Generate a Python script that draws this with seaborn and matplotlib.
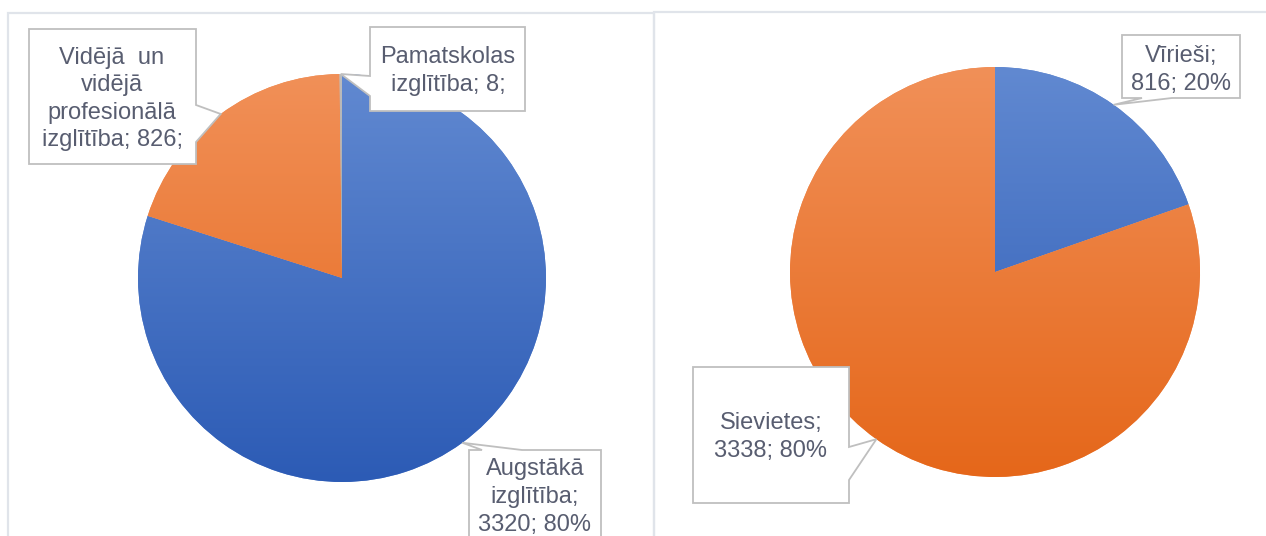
import numpy as np
import matplotlib
matplotlib.use("Agg")
import matplotlib.pyplot as plt
from matplotlib.colors import LinearSegmentedColormap
from matplotlib.patches import Polygon
import seaborn as sns

# Education level of respondents
edu_names = ["Augstākā\nizglītība;", "Vidējā  un\nvidējā\nprofesionālā\nizglītība;", "Pamatskolas\nizglītība;"]
edu_values = [3320, 826, 8]
edu_show_pct = [True, False, False]
edu_colors = ["blue", "orange", "gray"]

# Respondents by gender
gender_names = ["Vīrieši;", "Sievietes;"]
gender_values = [816, 3338]
gender_show_pct = [True, True]
gender_colors = ["blue", "orange"]

W, H = 1266, 536
TEXT = "#585d70"
BOX_EDGE = "#bfbfbf"
FRAME = "#e0e4ea"

sns.set_theme(style="white")
plt.rcParams["font.family"] = ["Liberation Sans", "DejaVu Sans"]

# light (top) -> dark (bottom) fills
shades = {
    "blue": ("#6189d1", "#2c5bb5"),
    "orange": ("#f19058", "#e5671a"),
    "gray": ("#bcbcbc", "#8c8c8c"),
}

fig = plt.figure(figsize=(W / 100, H / 100), dpi=100)
ax = fig.add_axes([0, 0, 1, 1])


def py(y):
    """Convert a top-down pixel row into the axes' y coordinate."""
    return H - y


def label_text(name, value, total, show_pct, sep):
    if show_pct:
        return f"{name}{sep}{value}; {round(value / total * 100)}%"
    return f"{name}{sep}{value};"


def gradient_pie(values, palette, center_px, radius):
    cx, cy = center_px[0], py(center_px[1])
    wedges, _ = ax.pie(
        values,
        colors=[shades[c][0] for c in palette],
        startangle=90,
        counterclock=False,
        center=(cx, cy),
        radius=radius,
        wedgeprops=dict(linewidth=0),
    )
    grad = np.linspace(0, 1, 256).reshape(-1, 1)
    for w, c in zip(wedges, palette):
        cmap = LinearSegmentedColormap.from_list("shade", shades[c])
        im = ax.imshow(
            grad, cmap=cmap, origin="upper", aspect="auto", zorder=2,
            interpolation="bilinear",
            extent=(cx - radius, cx + radius, cy - radius, cy + radius),
        )
        im.set_clip_path(w)
    # leader anchors sit on the rim at each slice's mid angle
    total = sum(values)
    anchors, start = [], 0.0
    for v in values:
        mid = (start + v / 2) / total * 2 * np.pi
        anchors.append((cx + radius * np.sin(mid), H - (cy + radius * np.cos(mid))))
        start += v
    return anchors


def callout(text, box, side, base, tip, text_xy):
    x0, y0, x1, y1 = box
    a, b = base
    pts = [(x0, y0)]
    if side == "top":
        pts += [(a, y0), tip, (b, y0)]
    pts.append((x1, y0))
    if side == "right":
        pts += [(x1, a), tip, (x1, b)]
    pts.append((x1, y1))
    if side == "bottom":
        pts += [(b, y1), tip, (a, y1)]
    pts.append((x0, y1))
    if side == "left":
        pts += [(x0, b), tip, (x0, a)]
    poly = Polygon([(x, py(y)) for x, y in pts], closed=True, facecolor="white",
                   edgecolor=BOX_EDGE, linewidth=1.3, zorder=5, joinstyle="miter")
    ax.add_patch(poly)
    ax.text(text_xy[0], py(text_xy[1]), text, ha="center", va="center",
            multialignment="center", fontsize=17, color=TEXT, zorder=6,
            linespacing=1.33)


# panel frames
ax.plot([8, 8, 654, 654], [py(560), py(12.5), py(12.5), py(560)],
        color=FRAME, lw=1.6, zorder=0, solid_joinstyle="miter")
ax.plot([654, 654, 1290], [py(560), py(12), py(12)],
        color=FRAME, lw=1.6, zorder=0, solid_joinstyle="miter")

# left pie: education
edu_total = sum(edu_values)
edu_anchor = gradient_pie(edu_values, edu_colors, (342, 278), 204)
edu_text = [
    label_text(edu_names[0], edu_values[0], edu_total, edu_show_pct[0], "\n"),
    label_text(edu_names[1], edu_values[1], edu_total, edu_show_pct[1], " "),
    label_text(edu_names[2], edu_values[2], edu_total, edu_show_pct[2], " "),
]
callout(edu_text[0], (469, 450, 601, 570), "top", (482, 522), edu_anchor[0], (535, 497))
callout(edu_text[1], (29, 29, 196, 164), "right", (105, 142), edu_anchor[1], (112, 99))
callout(edu_text[2], (370, 27, 525, 111), "left", (76, 96), edu_anchor[2], (448, 71))

# right pie: gender
gender_total = sum(gender_values)
gender_anchor = gradient_pie(gender_values, gender_colors, (995, 272), 205)
for i, (box, side, base, txy) in enumerate([
    ((1122, 35, 1240, 98), "bottom", (1142, 1172), (1181, 70)),
    ((693, 367, 849, 503), "right", (447, 480), (771, 437)),
]):
    txt = label_text(gender_names[i], gender_values[i], gender_total, gender_show_pct[i], "\n")
    callout(txt, box, side, base, gender_anchor[i], txy)

ax.set_xlim(0, W)
ax.set_ylim(0, H)
ax.set_aspect("equal")
ax.axis("off")
fig.savefig("out.png", dpi=100, facecolor="white")
